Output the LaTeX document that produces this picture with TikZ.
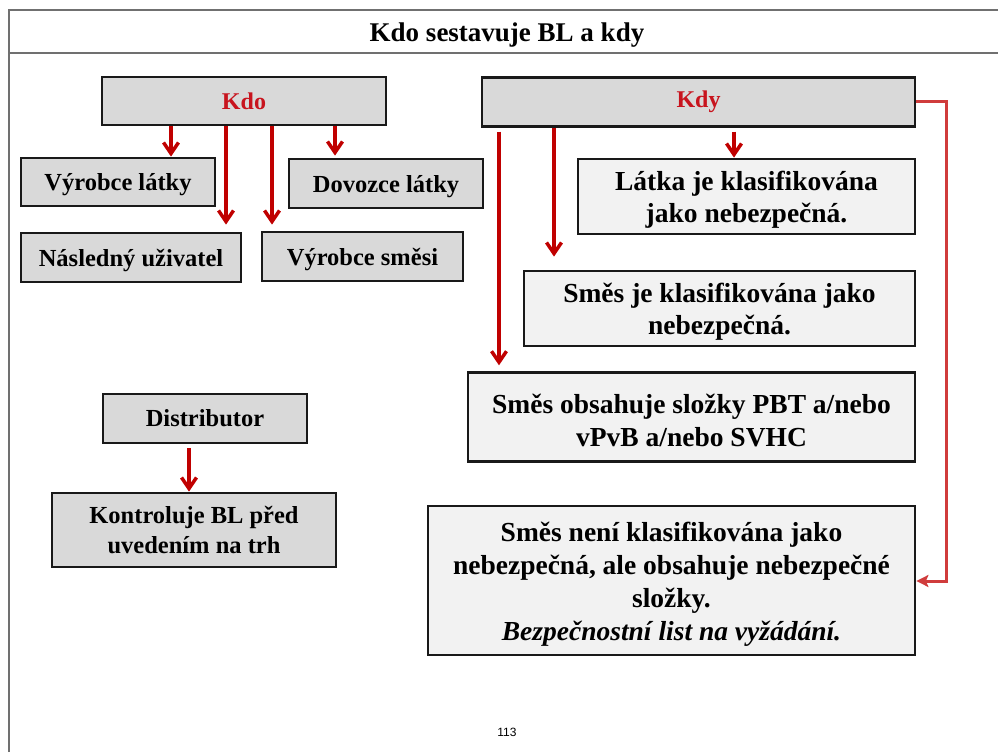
\documentclass[tikz,border=0pt]{standalone}
\usepackage{fontspec}
\setmainfont{Liberation Serif}
\newfontfamily\pagenumfont{Liberation Sans}
\usetikzlibrary{arrows.meta}
\definecolor{arrowred}{HTML}{C00000}
\definecolor{textred}{HTML}{C8141E}
\definecolor{elbowred}{HTML}{D03C3C}
\definecolor{boxdarkfill}{HTML}{D9D9D9}
\definecolor{boxlightfill}{HTML}{F2F2F2}
\definecolor{framegray}{HTML}{707070}
\newcommand{\tstrut}{\rule{0pt}{0.95em}}
\begin{document}
\begin{tikzpicture}[x=1pt,y=-1pt,
  boxbase/.style={draw=black!90, line width=2.8pt, rectangle, inner sep=0pt, align=center, font=\bfseries},
  boxdark/.style={boxbase, fill=boxdarkfill, font=\bfseries\fontsize{24.5}{30}\selectfont},
  boxlight/.style={boxbase, fill=boxlightfill, font=\bfseries\fontsize{27.5}{32.5}\selectfont},
  boxbig/.style={boxbase, fill=boxlightfill, font=\bfseries\fontsize{27.5}{33}\selectfont},
  headbox/.style={boxbase, fill=boxdarkfill, text=textred, font=\bfseries\fontsize{24}{28}\selectfont},
  arr/.style={draw=arrowred, line width=3.5pt, -{Straight Barb[length=11pt,width=15pt]}},
  elbow/.style={draw=elbowred, line width=3pt, -{Stealth[length=12pt,width=12pt,inset=2.5pt]}},
  frameline/.style={draw=framegray, line width=1.6pt}
]
\useasboundingbox (0,0) rectangle (998,752);

% frame
\draw[frameline] (9,752) -- (9,10) -- (998,10);
\draw[frameline] (9,53) -- (998,53);
\node[anchor=base, font=\bfseries\fontsize{27}{30}\selectfont] (title) at (507,41.5) {Kdo sestavuje BL a kdy};

% Kdo side
\node[headbox, minimum width=284pt, minimum height=48pt] (kdo) at (244,101) {Kdo};
\node[boxdark, minimum width=194pt, minimum height=48pt] (vl) at (118,182) {\tstrut Výrobce látky};
\node[boxdark, minimum width=194pt, minimum height=49pt] (dl) at (386,183.5) {\tstrut Dovozce látky};
\node[boxdark, minimum width=220pt, minimum height=49pt] (nu) at (131,257.5) {\tstrut Následný uživatel};
\node[boxdark, minimum width=201pt, minimum height=49pt] (vs) at (362.5,256.5) {\tstrut Výrobce směsi};
\node[boxdark, minimum width=204pt, minimum height=49pt] (dist) at (205,418.5) {Distributor};
\node[boxdark, minimum width=284pt, minimum height=74pt] (kontr) at (194,530) {Kontroluje BL před\\uvedením na trh};

\coordinate (xa) at (171,0);
\coordinate (xb) at (226,0);
\coordinate (xc) at (272,0);
\coordinate (xd) at (335,0);
\coordinate (xe) at (189,0);
\draw[arr] (kdo.south -| xa) -- (vl.north -| xa);
\draw[arr, shorten >=7pt] (kdo.south -| xb) -- (nu.north -| xb);
\draw[arr, shorten >=6pt] (kdo.south -| xc) -- (vs.north -| xc);
\draw[arr, shorten >=2pt] (kdo.south -| xd) -- (dl.north -| xd);
\draw[arr, shorten <=4pt] (dist.south -| xe) -- (kontr.north -| xe);

% Kdy side
\node[headbox, minimum width=433pt, minimum height=49pt] (kdy) at (698.5,101.7) {Kdy};
\node[boxlight, minimum width=337pt, minimum height=75pt] (latka) at (746.5,196.5) {\tstrut Látka je klasifikována\\jako nebezpečná.};
\node[boxlight, minimum width=391pt, minimum height=75pt] (smesje) at (719.5,308.5) {\tstrut Směs je klasifikována jako\\nebezpečná.};
\node[boxlight, minimum width=447pt, minimum height=89pt] (smesobs) at (691.5,417.2) {\tstrut Směs obsahuje složky PBT a/nebo\\vPvB a/nebo SVHC};
\node[boxbig, minimum width=487pt, minimum height=149pt] (smesneni) at (671.5,580.5) {\tstrut Směs není klasifikována jako\\nebezpečná, ale obsahuje nebezpečné\\složky.\\\textit{Bezpečnostní list na vyžádání.}};

\coordinate (xf) at (499,0);
\coordinate (xg) at (554,0);
\coordinate (xh) at (734,0);
\coordinate (xr) at (946,0);
\coordinate (yr) at (0,581);
\draw[arr, shorten <=4pt, shorten >=6pt] (kdy.south -| xf) -- (smesobs.north -| xf);
\draw[arr, shorten >=13pt] (kdy.south -| xg) -- (smesje.north -| xg);
\draw[arr, shorten <=4pt] (kdy.south -| xh) -- (latka.north -| xh);
\draw[elbow] (kdy.east) -- (kdy.east -| xr) -- (xr |- yr) -- (smesneni.east |- yr);

\node[font=\pagenumfont\fontsize{12}{14}\selectfont] (pagenum) at (507,732) {113};
\end{tikzpicture}
\end{document}
